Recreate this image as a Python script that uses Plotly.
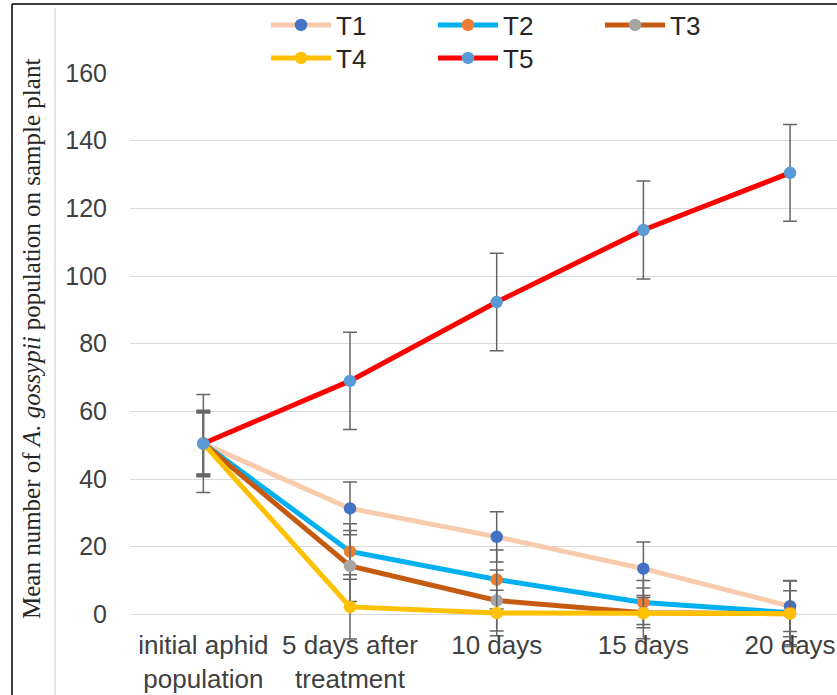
import plotly.graph_objects as go

categories = ["initial aphid<br>population", "5 days after<br>treatment", "10 days", "15 days", "20 days"]
series_names = ["T1", "T2", "T3", "T4", "T5"]
t1 = [50.5, 31.3, 22.9, 13.5, 2.4]
t1_err = [9.8, 7.8, 7.4, 7.9, 7.5]
t2 = [50.5, 18.6, 10.3, 3.5, 0.5]
t2_err = [9.2, 8.2, 8.7, 6.5, 9.5]
t3 = [50.5, 14.3, 4.1, 0.5, 0.2]
t3_err = [9.5, 10.5, 9.0, 4.5, 9.7]
t4 = [50.5, 2.2, 0.4, 0.3, 0.2]
t4_err = [9.0, 9.5, 6.7, 7.5, 6.8]
t5 = [50.5, 69.0, 92.3, 113.6, 130.5]
t5_err = [14.5, 14.4, 14.4, 14.5, 14.3]
y_ticks = [-20, 0, 20, 40, 60, 80, 100, 120, 140, 160]
y_title = "Mean number of <i>A. gossypii</i> population on sample plant"

values = [t1, t2, t3, t4, t5]
errors = [t1_err, t2_err, t3_err, t4_err, t5_err]
line_colors = ["#F8CBAD", "#00B0F0", "#C55A11", "#FFC000", "#FF0000"]
marker_colors = ["#4472C4", "#ED7D31", "#A5A5A5", "#FFC000", "#5B9BD5"]
legends = ["legend", "legend", "legend", "legend2", "legend2"]

fig = go.Figure()
for name, v, e, lc, mc, lg in zip(series_names, values, errors, line_colors, marker_colors, legends):
    fig.add_trace(go.Scatter(
        x=categories, y=v, name=name, mode="lines+markers",
        line=dict(color=lc, width=5),
        marker=dict(color=mc, size=12.5),
        error_y=dict(type="data", array=e, visible=True, color="#666666", thickness=1.5, width=7),
        legend=lg,
    ))

W, H = 837, 695
L, R, T, B = 130, 0, 73, 13
pw = W - L - R
ph = H - T - B

def px_x(p):
    return (p - L) / pw

def px_y(p):
    return 1 - (p - T) / ph

legend_common = dict(orientation="h", x=px_x(266), xanchor="left", yanchor="middle",
                     font=dict(size=26, color="#262626"), itemwidth=60, entrywidth=92,
                     bgcolor="rgba(0,0,0,0)", tracegroupgap=0, traceorder="normal")

fig.update_layout(
    width=W, height=H,
    margin=dict(l=L, r=R, t=T, b=B),
    paper_bgcolor="white", plot_bgcolor="white",
    font=dict(family="Liberation Sans, Arial", color="#404040"),
    showlegend=True,
    legend=dict(legend_common, y=px_y(25)),
    legend2=dict(legend_common, y=px_y(58)),
    xaxis=dict(
        type="category", range=[-0.5, 4.32], showgrid=False, showline=False, zeroline=False,
        anchor="free", position=1 / 9, ticks="", ticklabelstandoff=13,
        tickfont=dict(size=26, color="#404040"),
    ),
    yaxis=dict(
        range=[-20, 160], tickvals=y_ticks, showgrid=True, gridcolor="#D9D9D9", gridwidth=1.3,
        zeroline=False, showline=False, ticks="", ticklabelstandoff=22,
        tickfont=dict(size=25, color="#404040"),
    ),
    annotations=[
        dict(text=y_title, xref="paper", yref="paper", x=px_x(31), y=px_y(339),
             xanchor="center", yanchor="middle", textangle=-90, showarrow=False,
             font=dict(family="Liberation Serif, Times New Roman", size=25, color="#262626")),
    ],
    shapes=[
        dict(type="line", xref="paper", yref="paper", x0=px_x(12), x1=px_x(12), y0=-1, y1=px_y(4),
             line=dict(color="black", width=1.5)),
        dict(type="line", xref="paper", yref="paper", x0=px_x(12), x1=1.01, y0=px_y(4), y1=px_y(4),
             line=dict(color="black", width=1.5)),
        dict(type="line", xref="paper", yref="paper", x0=px_x(55), x1=px_x(55), y0=-1, y1=px_y(8),
             line=dict(color="#D9D9D9", width=1.3)),
    ],
)

fig.write_html("out.html", config={"displayModeBar": False},
               post_script="document.body.style.margin='0';document.body.style.padding='0';")
